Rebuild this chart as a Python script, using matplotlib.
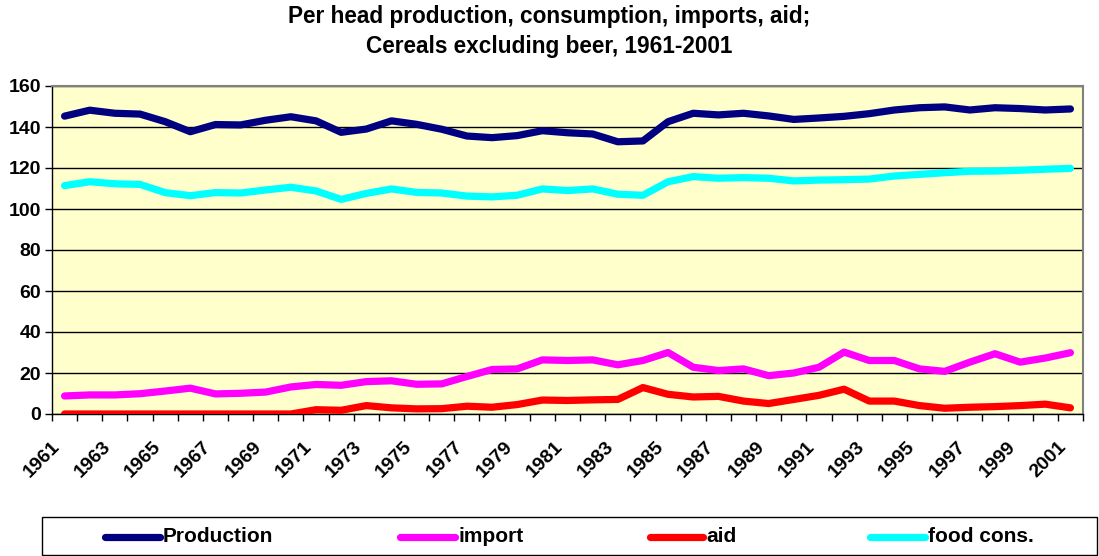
import matplotlib
matplotlib.use("Agg")
import matplotlib.pyplot as plt
from matplotlib.lines import Line2D
from matplotlib.patches import Rectangle
import numpy as np

plt.rcParams['font.family'] = ['Liberation Sans', 'DejaVu Sans']

years = list(range(1961, 2002))
production = [145.3, 148.2, 146.7, 146.3, 142.6, 137.7, 141.2, 141.0, 143.3, 145.0,
              143.0, 137.4, 139.0, 143.0, 141.3, 138.9, 135.6, 134.8, 135.8, 138.2,
              137.2, 136.6, 132.8, 133.2, 142.6, 146.7, 145.9, 146.7, 145.4, 143.7,
              144.4, 145.2, 146.5, 148.3, 149.4, 149.8, 148.3, 149.4, 149.0, 148.3,
              148.8]
imports = [8.8, 9.3, 9.3, 9.9, 11.2, 12.6, 9.8, 10.1, 10.7, 13.2,
           14.4, 14.0, 15.8, 16.2, 14.5, 14.7, 18.3, 21.7, 22.0, 26.4,
           26.1, 26.4, 24.0, 26.1, 30.0, 22.8, 21.2, 22.0, 18.7, 20.0,
           22.8, 30.2, 26.1, 26.1, 22.0, 20.8, 25.3, 29.4, 25.3, 27.3,
           29.9]
aid = [0.0, 0.0, 0.0, 0.0, 0.0, 0.0, 0.0, 0.0, 0.0, 0.0,
       2.1, 1.8, 4.1, 3.0, 2.5, 2.6, 3.8, 3.3, 4.6, 6.8,
       6.6, 6.9, 7.1, 12.9, 9.6, 8.3, 8.6, 6.3, 5.1, 7.1,
       9.1, 12.1, 6.3, 6.3, 4.1, 2.8, 3.3, 3.6, 4.1, 4.8,
       3.0]
food_cons = [111.4, 113.3, 112.3, 112.0, 108.0, 106.5, 108.0, 107.8, 109.3, 110.6,
             108.8, 104.7, 107.6, 109.8, 108.1, 107.8, 106.3, 105.9, 106.7, 109.8,
             109.0, 109.8, 107.2, 106.7, 113.3, 115.8, 115.0, 115.3, 115.0, 113.7,
             114.1, 114.3, 114.6, 116.1, 116.9, 117.7, 118.4, 118.5, 118.9, 119.4,
             119.8]
y_ticks = [0, 20, 40, 60, 80, 100, 120, 140, 160]
series_names = ['Production', 'import', 'aid', 'food cons.']
series_colors = ['#000080', '#FF00FF', '#FF0000', '#00FFFF']

W, H = 1099, 556
PT = 72.0 / 100.0  # points per pixel

fig = plt.figure(figsize=(10.99, 5.56), dpi=100)
ax = fig.add_axes([52/W, 1-414/H, (1083-52)/W, (414-86)/H])
ax.set_facecolor('#FFFFCC')

x = np.arange(len(years))
lw = 5.2
data = [production, imports, aid, food_cons]
order = [3, 0, 1, 2]
for i in order:
    ax.plot(x, data[i], color=series_colors[i], lw=lw, solid_capstyle='round',
            solid_joinstyle='round', zorder=3)

ax.set_xlim(-0.5, len(years) - 0.5)
ax.set_ylim(0, 160)
ax.set_yticks(y_ticks)
ax.set_yticklabels([str(v) for v in y_ticks], fontsize=14, fontweight='bold')
ax.yaxis.grid(True, color='black', lw=1.0)
ax.set_axisbelow(True)

ax.set_xticks(np.arange(-0.5, len(years), 1))
ax.set_xticklabels([])
ax.tick_params(axis='x', length=5, width=1, direction='out', color='black')
ax.tick_params(axis='y', length=5, width=1, direction='out', color='black', pad=3)

for xi in x[::2]:
    ax.annotate(str(years[xi]), xy=(xi, 0), xycoords=('data', 'axes fraction'),
                xytext=(-13 * PT, -24 * PT), textcoords='offset points',
                rotation=45, ha='right', va='top', rotation_mode='anchor',
                fontsize=14, fontweight='bold', annotation_clip=False)

for side in ['top', 'right']:
    ax.spines[side].set_color('#808080')
    ax.spines[side].set_linewidth(1.5)
for side in ['left', 'bottom']:
    ax.spines[side].set_color('black')
    ax.spines[side].set_linewidth(1.0)

fig.text(0.5, 1 - 16/H, 'Per head production, consumption, imports, aid;',
         ha='center', va='center', fontsize=16.3, fontweight='bold')
fig.text(0.5, 1 - 46/H, 'Cereals excluding beer, 1961-2001',
         ha='center', va='center', fontsize=16.3, fontweight='bold')

# legend box
fig.patches.append(Rectangle((42/W, 1 - 555/H), (1097-42)/W, (555-517)/H,
                             transform=fig.transFigure, facecolor='white',
                             edgecolor='black', lw=1.0, zorder=1))
leg_lines = [(105, 160), (400, 455), (650, 703), (870, 925)]
ly = 1 - 537/H
for (x0, x1), name, col in zip(leg_lines, series_names, series_colors):
    fig.lines.append(Line2D([x0/W, x1/W], [ly, ly], transform=fig.transFigure,
                            color=col, lw=lw, solid_capstyle='round', zorder=2))
    fig.text((x1 + 3)/W, ly, name, ha='left', va='center', fontsize=15,
             fontweight='bold', zorder=3)

fig.savefig('out.png', dpi=100)
